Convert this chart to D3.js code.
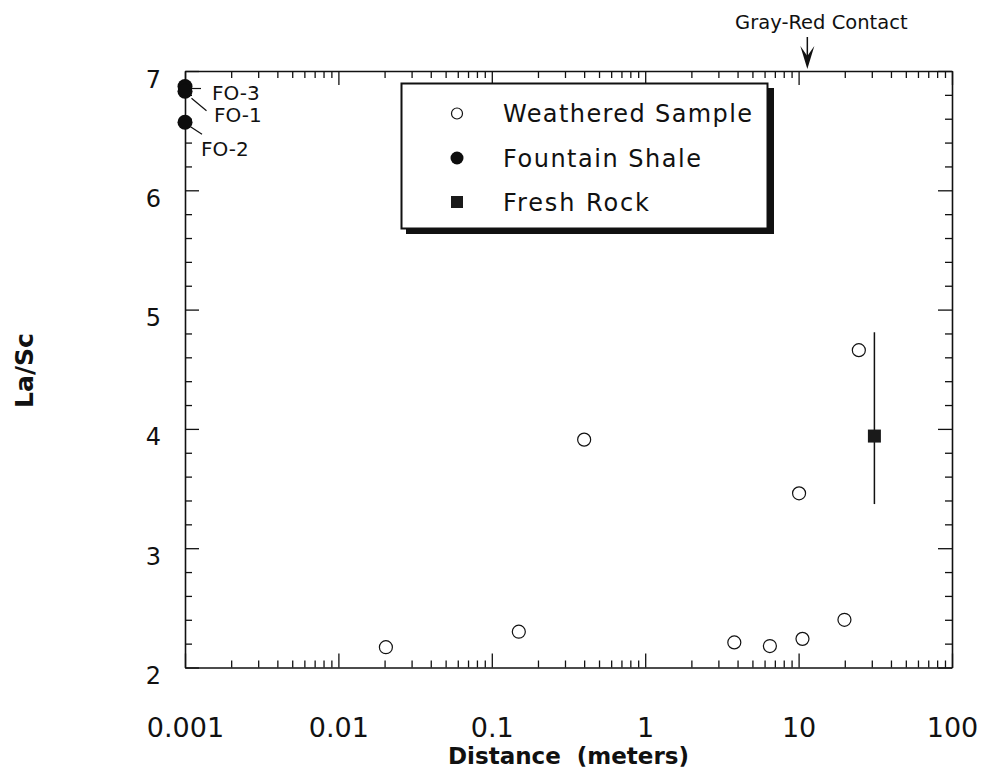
<!DOCTYPE html>
<html>
<head>
<meta charset="utf-8">
<script src="https://cdn.jsdelivr.net/npm/d3@7/dist/d3.min.js"></script>
<style>
  html, body { margin: 0; padding: 0; background: #fff; }
  svg { display: block; }
  text { font-family: "DejaVu Sans", sans-serif; fill: #111; }
</style>
</head>
<body>
<svg id="chart" width="997" height="774"></svg>
<script>
// Axis ticks and labels
const xTickValues = [0.001, 0.01, 0.1, 1, 10, 100];
const xTickLabels = ["0.001", "0.01", "0.1", "1", "10", "100"];
const yTickValues = [2, 3, 4, 5, 6, 7];
const yTickLabels = ["2", "3", "4", "5", "6", "7"];

// Weathered samples: distance (m) and La/Sc
const weatheredDist  = [0.0204, 0.150, 0.40, 3.81, 6.5, 10.6, 19.9, 10.07, 24.7];
const weatheredRatio = [2.17, 2.30, 3.91, 2.21, 2.18, 2.24, 2.40, 3.46, 4.66];

// Fountain Shale samples
const shaleNames = ["FO-3", "FO-1", "FO-2"];
const shaleDist  = [0.001, 0.001, 0.001];
const shaleRatio = [6.87, 6.83, 6.57];

// Fresh rock: mean with range
const freshDist  = [31.2];
const freshRatio = [3.94];
const freshLow   = [3.37];
const freshHigh  = [4.81];

// Gray-red contact position (m)
const contactDist = [11.4];

// Legend entries
const legendLabels = ["Weathered Sample", "Fountain Shale", "Fresh Rock"];

const svg = d3.select("#chart");
const plotLeft = 185, plotRight = 952, plotTop = 71, plotBottom = 667.5;

const x = d3.scaleLog().domain([0.001, 100]).range([plotLeft, plotRight]);
const y = d3.scaleLinear().domain([2, 7]).range([plotBottom, plotTop]);

// minor tick values
const xMinor = [];
for (let d = 0.001; d < 99; d *= 10) for (let m = 2; m <= 9; m++) xMinor.push(+(d * m).toPrecision(3));
const yMinor = [];
for (let v = 2; v < 7; v += 1) for (let k = 1; k <= 4; k++) yMinor.push(+(v + k * 0.2).toFixed(1));

const ink = "#111";
function styleAxis(g) {
  g.selectAll("path.domain").attr("stroke", ink).attr("stroke-width", 1.6);
  g.selectAll(".tick line").attr("stroke", ink).attr("stroke-width", 1.3);
}

// bottom
svg.append("g").attr("transform", `translate(0,${plotBottom})`)
  .call(d3.axisBottom(x).tickValues(xTickValues).tickSize(-14).tickSizeOuter(0)
    .tickPadding(50).tickFormat((d, i) => xTickLabels[i]))
  .call(styleAxis)
  .call(g => g.selectAll("text").attr("font-size", 27).attr("font-family", "DejaVu Sans").attr("fill", ink));
svg.append("g").attr("transform", `translate(0,${plotBottom})`)
  .call(d3.axisBottom(x).tickValues(xMinor).tickSize(-7).tickFormat(""))
  .call(styleAxis).call(g => g.select(".domain").remove());
// top
svg.append("g").attr("transform", `translate(0,${plotTop})`)
  .call(d3.axisTop(x).tickValues(xTickValues).tickSize(-14).tickSizeOuter(0).tickFormat(""))
  .call(styleAxis);
svg.append("g").attr("transform", `translate(0,${plotTop})`)
  .call(d3.axisTop(x).tickValues(xMinor).tickSize(-7).tickFormat(""))
  .call(styleAxis).call(g => g.select(".domain").remove());
// left
svg.append("g").attr("transform", `translate(${plotLeft},0)`)
  .call(d3.axisLeft(y).tickValues(yTickValues).tickSize(-14).tickSizeOuter(0)
    .tickPadding(24).tickFormat((d, i) => yTickLabels[i]))
  .call(styleAxis)
  .call(g => g.selectAll("text").attr("font-size", 24).attr("font-family", "DejaVu Sans")
    .attr("fill", ink).attr("dy", 16));
svg.append("g").attr("transform", `translate(${plotLeft},0)`)
  .call(d3.axisLeft(y).tickValues(yMinor).tickSize(-7).tickFormat(""))
  .call(styleAxis).call(g => g.select(".domain").remove());
// right
svg.append("g").attr("transform", `translate(${plotRight},0)`)
  .call(d3.axisRight(y).tickValues(yTickValues).tickSize(-14).tickSizeOuter(0).tickFormat(""))
  .call(styleAxis);
svg.append("g").attr("transform", `translate(${plotRight},0)`)
  .call(d3.axisRight(y).tickValues(yMinor).tickSize(-7).tickFormat(""))
  .call(styleAxis).call(g => g.select(".domain").remove());

// axis titles
svg.append("text").attr("x", (plotLeft + plotRight) / 2).attr("y", 764)
  .attr("text-anchor", "middle").attr("font-size", 23).attr("font-weight", "bold")
  .style("white-space", "pre").text("Distance  (meters)");
svg.append("text").attr("transform", "translate(33,370.5) rotate(-90)")
  .attr("text-anchor", "middle").attr("font-size", 25).attr("font-weight", "bold")
  .text("La/Sc");

// fresh rock range bar and mark
const fresh = freshDist.map((d, i) => ({ d, v: freshRatio[i], lo: freshLow[i], hi: freshHigh[i] }));
svg.selectAll("line.range").data(fresh).join("line").attr("class", "range")
  .attr("x1", p => x(p.d)).attr("x2", p => x(p.d))
  .attr("y1", p => y(p.hi)).attr("y2", p => y(p.lo))
  .attr("stroke", ink).attr("stroke-width", 1.5);
const sq = 13;
svg.selectAll("rect.fresh").data(fresh).join("rect").attr("class", "fresh")
  .attr("x", p => x(p.d) - sq / 2).attr("y", p => y(p.v) - sq / 2)
  .attr("width", sq).attr("height", sq).attr("fill", "#1a1a1a");

// weathered samples
const weathered = weatheredDist.map((d, i) => ({ d, v: weatheredRatio[i] }));
svg.selectAll("circle.weathered").data(weathered).join("circle").attr("class", "weathered")
  .attr("cx", p => x(p.d)).attr("cy", p => y(p.v)).attr("r", 6.5)
  .attr("fill", "#fff").attr("stroke", ink).attr("stroke-width", 1.2);

// fountain shale samples with labels
const shale = shaleDist.map((d, i) => ({ d, v: shaleRatio[i], name: shaleNames[i] }));
svg.selectAll("circle.shale").data(shale).join("circle").attr("class", "shale")
  .attr("cx", p => x(p.d)).attr("cy", p => y(p.v)).attr("r", 7.5).attr("fill", "#0d0d0d");

const shaleLabelOffsets = {
  "FO-3": { l: [7, 2, 16, 2], t: [27, 13] },
  "FO-1": { l: [6.5, 7, 21.5, 19.5], t: [29, 30.5] },
  "FO-2": { l: [5.5, 4.5, 17, 12], t: [16, 33.5] }
};
shale.forEach(p => {
  const o = shaleLabelOffsets[p.name];
  const px = x(p.d), py = y(p.v);
  svg.append("line").attr("x1", px + o.l[0]).attr("y1", py + o.l[1])
    .attr("x2", px + o.l[2]).attr("y2", py + o.l[3])
    .attr("stroke", ink).attr("stroke-width", 1.2);
  svg.append("text").attr("x", px + o.t[0]).attr("y", py + o.t[1])
    .attr("font-size", 20).text(p.name);
});

// gray-red contact marker
contactDist.forEach(c => {
  const cx = x(c);
  svg.append("line").attr("x1", cx).attr("x2", cx).attr("y1", 37).attr("y2", 58)
    .attr("stroke", ink).attr("stroke-width", 1.5);
  svg.append("path")
    .attr("d", `M${cx},${plotTop - 2} L${cx - 7},${plotTop - 25} L${cx},${plotTop - 15} L${cx + 7},${plotTop - 25} Z`)
    .attr("fill", ink);
  svg.append("text").attr("x", cx + 14).attr("y", 28.5).attr("text-anchor", "middle")
    .attr("font-size", 19.5).text("Gray-Red Contact");
});

// legend
const lg = svg.append("g");
lg.append("rect").attr("x", 406).attr("y", 88).attr("width", 368).attr("height", 146).attr("fill", ink);
lg.append("rect").attr("x", 401.5).attr("y", 83.5).attr("width", 366).attr("height", 145)
  .attr("fill", "#fff").attr("stroke", ink).attr("stroke-width", 2);
const rowY = [113.5, 158, 202];
const textLen = [249, 198, 146];
lg.append("circle").attr("cx", 457).attr("cy", rowY[0]).attr("r", 5.5)
  .attr("fill", "#fff").attr("stroke", ink).attr("stroke-width", 1.2);
lg.append("circle").attr("cx", 457).attr("cy", rowY[1]).attr("r", 6.5).attr("fill", "#0d0d0d");
lg.append("rect").attr("x", 457 - 6).attr("y", rowY[2] - 6).attr("width", 12).attr("height", 12).attr("fill", "#1a1a1a");
legendLabels.forEach((t, i) => {
  lg.append("text").attr("x", 503).attr("y", rowY[i] + 8.5).attr("font-size", 24)
    .attr("textLength", textLen[i]).attr("lengthAdjust", "spacing").text(t);
});
</script>
</body>
</html>
